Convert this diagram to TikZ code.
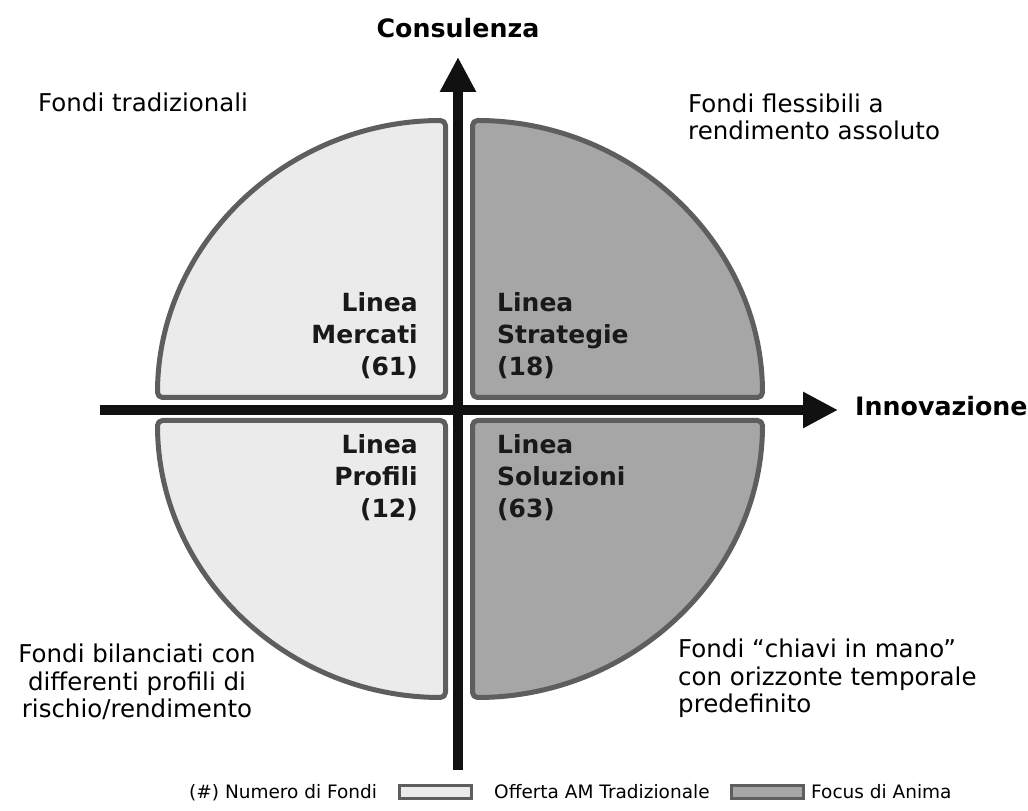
\documentclass[tikz,border=0pt]{standalone}
\usepackage{fontspec}
\setmainfont{DejaVu Sans}
\usetikzlibrary{arrows.meta}
\definecolor{qborder}{HTML}{5E5E5E}
\definecolor{qlight}{HTML}{EBEBEB}
\definecolor{qdark}{HTML}{A6A6A6}
\definecolor{axiscol}{HTML}{111111}
\begin{document}
\begin{tikzpicture}[x=1pt,y=1pt,
  quad/.style={draw=qborder, line width=5pt, line join=round, rounded corners=5pt},
  axisline/.style={draw=axiscol, line width=10pt, -{Triangle[length=35pt,width=34pt]}},
  plain/.style={font=\fontsize{24.5}{27.5}\selectfont, inner sep=0pt, text=black},
  lab/.style={font=\bfseries\fontsize{25}{32}\selectfont, inner sep=0pt, text=black!90},
  axlab/.style={font=\bfseries\fontsize{25.3}{30}\selectfont, inner sep=0pt, text=black},
  legtext/.style={font=\fontsize{18.5}{22}\selectfont, inner sep=0pt, anchor=base west},
  legbox/.style={draw=qborder, line width=3pt, minimum width=72pt, minimum height=13pt, inner sep=0pt, anchor=south west}
]
\useasboundingbox (0,0) rectangle (1028,811);
% quadrants
\path[quad, fill=qlight] (445.5,413.5) -- (445.5,690.5) arc[start angle=90, end angle=180, x radius=288, y radius=277] -- cycle;
\path[quad, fill=qdark] (472.5,413.5) -- (762.5,413.5) arc[start angle=0, end angle=90, x radius=290, y radius=277] -- cycle;
\path[quad, fill=qlight] (445.5,390.5) -- (157.5,390.5) arc[start angle=180, end angle=270, x radius=288, y radius=277] -- cycle;
\path[quad, fill=qdark] (472.5,390.5) -- (472.5,113.5) arc[start angle=270, end angle=360, x radius=290, y radius=277] -- cycle;
% axes
\coordinate (vstart) at (458,41);
\coordinate (vend) at (458,754);
\coordinate (hstart) at (100,401);
\coordinate (hend) at (838,401);
\draw[axisline] (vstart) -- (vend);
\draw[axisline] (hstart) -- (hend);
\node[axlab, anchor=base] (cons) at (458,773) {Consulenza};
\node[axlab, anchor=base west] (innov) at (855,395) {Innovazione};
% quadrant labels (base = last line)
\node[lab, anchor=base east, align=right] (tl) at (418,435) {Linea\\Mercati\\(61)};
\node[lab, anchor=base west, align=left] (tr) at (497,435) {Linea\\Strategie\\(18)};
\node[lab, anchor=base east, align=right] (bl) at (418,293) {Linea\\Profili\\(12)};
\node[lab, anchor=base west, align=left] (br) at (497,293) {Linea\\Soluzioni\\(63)};
% descriptions
\node[plain, anchor=base west] (dtl) at (38,699) {Fondi tradizionali};
\node[plain, anchor=base west, align=left] (dtr) at (688,671) {Fondi flessibili a\\rendimento assoluto};
\node[plain, anchor=base, align=center] (dbl) at (137,93) {Fondi bilanciati con\\differenti profili di\\rischio/rendimento};
\node[plain, anchor=base west, align=left] (dbr) at (678,98) {Fondi “chiavi in mano”\\con orizzonte temporale\\predefinito};
% legend
\node[legtext] (l1) at (189,12) {(\#) Numero di Fondi};
\node[legbox, fill=qlight] (b1) at (398,11) {};
\node[legtext] (l2) at (494,12) {Offerta AM Tradizionale};
\node[legbox, fill=qdark] (b2) at (730,11) {};
\node[legtext] (l3) at (811,12) {Focus di Anima};
\end{tikzpicture}
\end{document}
